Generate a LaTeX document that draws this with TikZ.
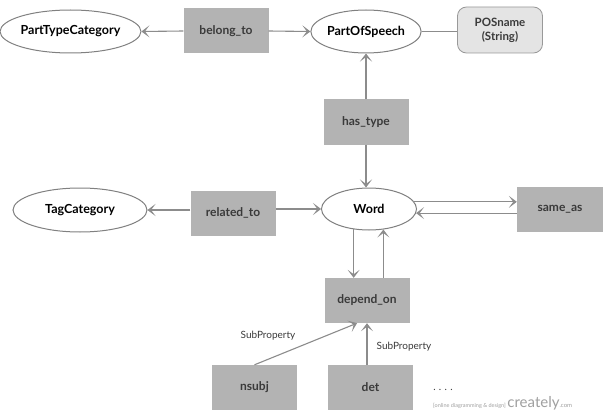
\documentclass[tikz,border=0pt]{standalone}
\usepackage{fontspec}
\setmainfont{Lato}
\usetikzlibrary{arrows.meta,shapes.geometric}
\definecolor{ellline}{HTML}{808080}
\definecolor{boxfill}{HTML}{B3B3B3}
\definecolor{arrgray}{HTML}{8C8C8C}
\definecolor{boxtext}{HTML}{3A3A3A}
\definecolor{attrfill}{HTML}{E4E4E4}
\definecolor{wmgray}{HTML}{A0A0A0}
\begin{document}
\begin{tikzpicture}[x=1pt,y=-1pt,
  ent/.style={ellipse, draw=ellline, line width=1pt, fill=white, inner sep=0pt,
    font=\fontsize{12.5}{14}\selectfont\bfseries, text=black},
  rel/.style={rectangle, fill=boxfill, inner sep=0pt, minimum width=85pt, minimum height=45pt,
    font=\fontsize{12}{14}\selectfont\bfseries, text=boxtext},
  attr/.style={rectangle, rounded corners=9pt, draw=ellline!80, fill=attrfill, line width=0.8pt,
    inner sep=0pt, minimum width=85pt, minimum height=46pt, align=center,
    font=\fontsize{11.5}{14}\selectfont\bfseries, text=boxtext},
  arr/.style={draw=arrgray, line width=1.1pt, -{Stealth[length=8pt,width=12pt,inset=4.5pt]}},
  plain/.style={draw=arrgray, line width=1pt},
  lbl/.style={font=\fontsize{10}{12}\selectfont, text=boxtext, inner sep=0pt}
]
\useasboundingbox (0,0) rectangle (603,412);
\fill[white] (0,0) rectangle (603,412);

% nodes
\node[ent, minimum width=125pt, minimum height=43pt] (ptc) at (70.5,31.5) {PartTypeCategory};
\node[rel] (belong) at (226,31) {belong\_to};
\node[ent, minimum width=103pt, minimum height=43pt] (pos) at (366,31.5) {PartOfSpeech};
\node[attr] (posname) at (500,30) {POSname\\(String)};
\node[rel] (hastype) at (366,122) {has\_type};
\node[ent, minimum width=134pt, minimum height=44pt] (tagcat) at (80,210) {TagCategory};
\node[rel] (related) at (233,213) {related\_to};
\node[ent, minimum width=95pt, minimum height=42pt] (word) at (369,209) {Word};
\node[rel, minimum width=86pt] (sameas) at (560,209.5) {same\_as};
\node[rel] (depend) at (367,300.5) {depend\_on};
\node[rel] (nsubj) at (254.5,387.5) {nsubj};
\node[rel] (det) at (370.5,387.5) {det};

% connectors
\draw[arr] (belong.west) -- (ptc.east);
\draw[arr] (belong.east) -- (pos.west);
\draw[plain] (pos.east) -- (posname.west |- pos.east);
\draw[arr] (hastype.north) -- (pos.south);
\draw[arr] (hastype.south) -- (hastype.south |- word.north);
\draw[arr] (related.west |- tagcat.east) -- (tagcat.east);
\draw[arr] (related.east |- word.west) -- (word.west);
\draw[arr] (word.9) -- (word.9 -| sameas.west);
\draw[arr] (sameas.west |- word.-5) -- (word.-5);
\draw[arr] (word.-127) -- (word.-127 |- depend.north);
\draw[arr] (depend.north -| word.-55) -- (word.-55);
\draw[arr] (nsubj.north) -- ([xshift=-10pt]depend.south);
\draw[arr] (det.north -| depend.south) -- (depend.south);

% labels
\node[lbl] (sp1) at (268,336) {SubProperty};
\node[lbl] (sp2) at (404,347) {SubProperty};
\node[lbl, text=boxtext] (dots) at (443,390) {.\,\,.\,\,.\,\,.};

% watermark
\node[inner sep=0pt, anchor=base west, text=wmgray] (wm) at (433,407)
  {{\fontsize{5.5}{6}\selectfont [online diagramming \& design]}\,{\fontsize{15}{16}\selectfont creately}{\fontsize{6}{7}\selectfont .com}};
\end{tikzpicture}
\end{document}
